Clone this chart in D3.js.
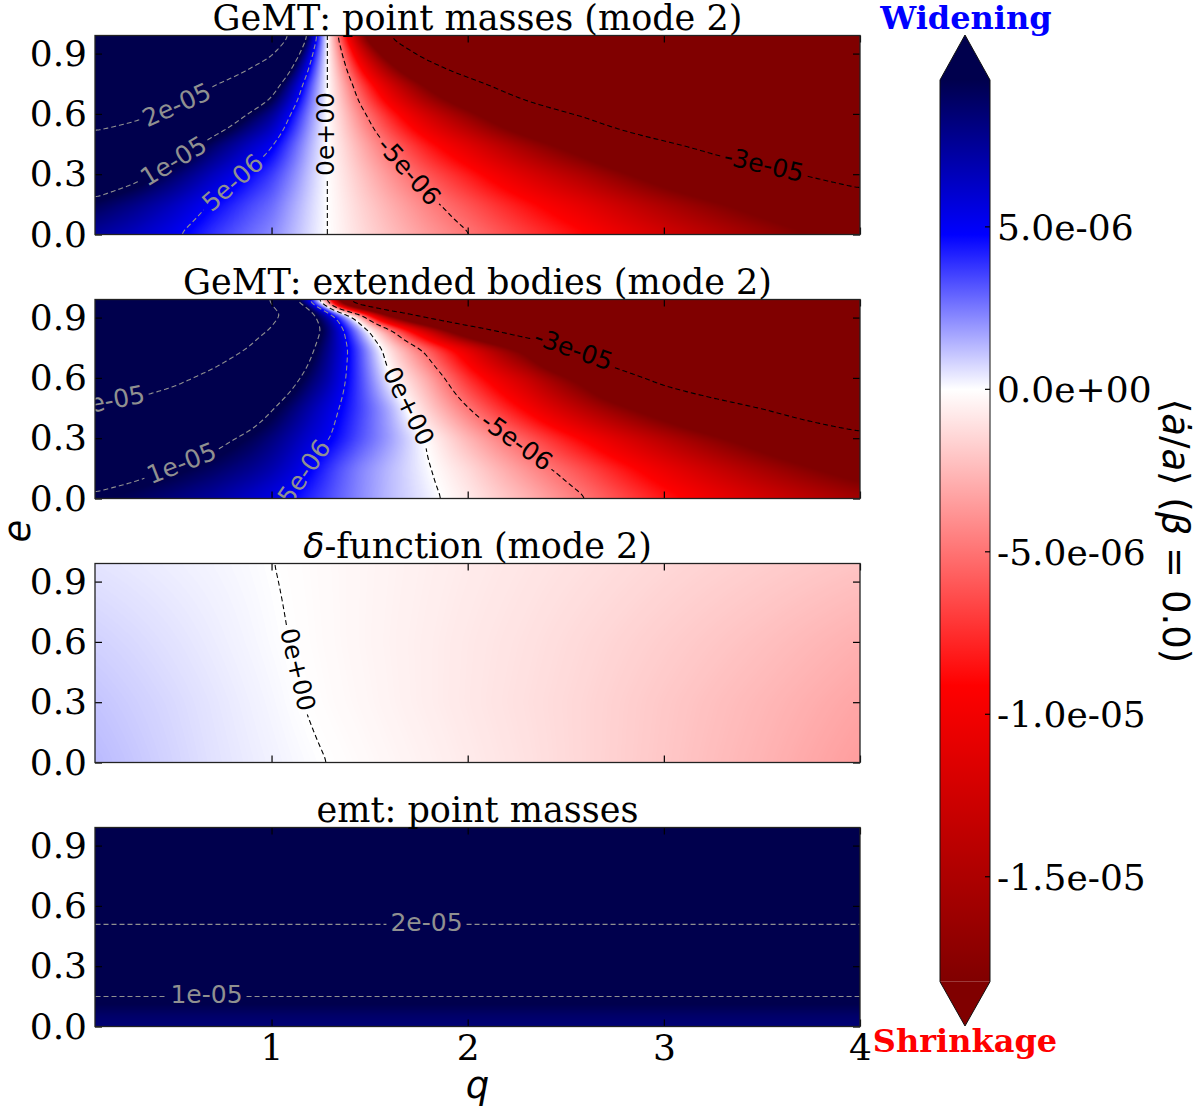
<!DOCTYPE html>
<html>
<head>
<meta charset="utf-8">
<script src="https://cdn.jsdelivr.net/npm/d3@7/dist/d3.min.js"></script>
<style>
  body { margin: 0; background: #fff; }
  text { font-family: "DejaVu Serif", serif; }
  text.sans, tspan.sans { font-family: "DejaVu Sans", sans-serif; }
</style>
</head>
<body>
<svg id="fig" width="1200" height="1111"></svg>
<script>
// all field values below are in units of 1e-6
const UNIT = 1e-6;
const VMIN = -18.23, VMAX = 9.52;
const levels = [-30, -5, 0, 5, 10, 20];
const cbTicks = [5, 0, -5, -10, -15];
const xTicks = [1, 2, 3, 4];
const yTicks = [0, 0.3, 0.6, 0.9];

const titles = ["GeMT: point masses (mode 2)", "GeMT: extended bodies (mode 2)",
                "δ-function (mode 2)", "emt: point masses"];

// sample points
const qGrid = [0.1, 0.3, 0.5, 0.7, 0.9, 1.0, 1.1, 1.2, 1.284, 1.35, 1.45, 1.6, 1.8, 2.0, 2.3, 2.6, 3.0, 3.5, 4.0];
const eGrid = [0, 0.15, 0.3, 0.45, 0.6, 0.75, 0.85, 0.93, 0.99];

const gemtPoint = [
  [7.4, 6.4, 5.2, 3.8, 2.7, 2.2, 1.4, 0.6, 0, -0.45, -1.2, -2.25, -3.6, -4.85, -6.9, -8.9, -12.1, -16, -20.1],
  [9.3, 8.0, 6.5, 4.8, 3.4, 2.8, 1.75, 0.75, 0, -0.56, -1.5, -2.8, -4.5, -6.1, -8.6, -11.1, -15.1, -20, -25.1],
  [12.4, 10.9, 8.8, 6.5, 4.6, 3.7, 2.4, 1.0, 0, -0.77, -2.0, -3.8, -6.1, -8.2, -11.7, -15.1, -20.6, -27.2, -34.2],
  [16.5, 14.7, 12.2, 8.9, 6.3, 5.2, 3.3, 1.4, 0, -1.06, -2.8, -5.3, -8.5, -11.4, -16.2, -20.9, -28.4, -37.6, -47.2],
  [24.5, 21.8, 18.2, 13.3, 9.5, 7.7, 4.9, 2.1, 0, -1.6, -4.2, -7.9, -12.6, -17.0, -24.2, -31.2, -42.4, -56, -70.4],
  [38, 33.8, 28.1, 20.5, 14.6, 11.9, 7.6, 3.2, 0, -2.4, -6.5, -12.2, -19.4, -26.2, -37.3, -48.1, -65.3, -86.4, -109],
  [55, 49, 40.6, 29.6, 21.1, 17.2, 10.9, 4.7, 0, -3.5, -9.4, -17.6, -28.1, -37.8, -53.8, -69.4, -94.4, -125, -157],
  [75, 66, 54.6, 39.9, 28.4, 23.1, 14.7, 6.3, 0, -4.7, -12.6, -23.6, -37.8, -50.9, -72.5, -93.5, -127, -168, -211],
  [97, 85, 70.2, 51.3, 36.5, 29.7, 18.9, 8.1, 0, -6.1, -16.2, -30.4, -48.6, -65.5, -93.2, -120, -163, -216, -271]
];

const gemtExtended = [
  [9.6, 9.0, 8.2, 7.3, 6.1, 5.5, 4.75, 4.0, 3.4, 2.9, 2.2, 1.25, 0.35, -0.7, -2.6, -4.9, -8.2, -12, -15.5],
  [11.5, 10.8, 10.0, 9.0, 7.8, 7.0, 6.0, 4.85, 3.9, 3.2, 2.3, 1.3, 0.1, -1.3, -3.9, -6.5, -10.5, -15.5, -20.5],
  [14, 13, 12, 10.9, 9.3, 8.3, 7.1, 5.9, 5.15, 4.4, 3.3, 1.85, -0.2, -2.6, -5.9, -9.4, -14.3, -20.5, -27],
  [19.3, 18, 16.3, 14.2, 11.6, 10.2, 8.6, 7.0, 5.8, 4.9, 3.6, 1.6, -1.8, -4.9, -9.5, -14.5, -21, -30, -40],
  [26, 24, 21.5, 18.5, 15, 13, 11, 8.8, 7.2, 5.6, 3.5, 0.2, -3.2, -7.5, -13, -20, -33, -45, -57],
  [31, 29, 26.5, 23.5, 19.6, 17, 14, 10.6, 8, 6.1, 3.3, -1.1, -5.9, -11, -20, -34, -50, -65, -80],
  [33, 31, 28.5, 25.5, 22, 20.1, 16.5, 12, 8.9, 5.7, 1.6, -4.5, -14, -25, -40, -52, -68, -85, -100],
  [34, 32, 29.5, 26.5, 23.5, 21.5, 19.3, 11, 6.2, 2.6, -4, -22, -40, -55, -70, -82, -95, -110, -125],
  [33, 31, 28.5, 25.5, 22.2, 19.6, 10.5, 3, -7, -25, -50, -70, -85, -95, -110, -120, -135, -150, -165]
];

const eGridDelta = [0, 0.3, 0.6, 0.99];
const deltaFn = [
  [1.3, 1.05, 0.8, 0.55, 0.35, 0.26, 0.16, 0.07, 0.0, -0.06, -0.15, -0.3, -0.5, -0.72, -1.05, -1.45, -2.0, -2.7, -3.5],
  [1.1, 0.9, 0.7, 0.48, 0.27, 0.17, 0.06, -0.04, -0.12, -0.18, -0.27, -0.42, -0.62, -0.82, -1.12, -1.45, -1.95, -2.55, -3.2],
  [0.85, 0.7, 0.53, 0.35, 0.17, 0.08, -0.01, -0.1, -0.17, -0.23, -0.32, -0.45, -0.62, -0.8, -1.05, -1.35, -1.75, -2.25, -2.8],
  [0.5, 0.4, 0.3, 0.2, 0.08, 0.01, -0.06, -0.13, -0.19, -0.24, -0.31, -0.42, -0.56, -0.7, -0.9, -1.1, -1.4, -1.75, -2.1]
];

// emt does not change with q
const qGridEmt = [0.1, 4.0];
const eGridEmt = [0, 0.05, 0.1, 0.155, 0.3, 0.51, 0.75, 0.99];
const emtByE = [8.4, 8.7, 9.4, 10, 13, 20, 30, 45];

// where the inline contour labels sit: [level, q, e] per panel
const labelSpots = [
  [[20, 0.508, 0.67], [10, 0.49, 0.387], [5, 0.805, 0.254], [0, 1.315, 0.5], [-5, 1.706, 0.32], [-30, 3.51, 0.35]],
  [[20, 0.176, 0.465], [10, 0.55, 0.15], [5, 1.196, 0.115], [0, 1.697, 0.457], [-5, 2.24, 0.27], [-30, 2.53, 0.72]],
  [[0, 1.137, 0.465]],
  [[20, 1.79, 0.51], [10, 0.668, 0.155]]
];

const panels = [
  {title: titles[0], qs: qGrid, es: eGrid, grid: gemtPoint},
  {title: titles[1], qs: qGrid, es: eGrid, grid: gemtExtended},
  {title: titles[2], qs: qGrid, es: eGridDelta, grid: deltaFn},
  {title: titles[3], qs: qGridEmt, es: eGridEmt, grid: emtByE.map(v => [v, v])}
];

const plotX0 = 95, plotX1 = 860, panelH = 199;
const panelTops = [35.5, 299.5, 563.5, 827.5];
const x = d3.scaleLinear().domain([0.1, 4]).range([plotX0, plotX1]);
const FS = 36;   // tick labels

// seismic_r with white at zero
const color = d3.scaleLinear()
  .domain([VMIN, VMIN / 2, 0, VMAX / 2, VMAX])
  .range(["#800000", "#ff0000", "#ffffff", "#0000ff", "#00004d"])
  .clamp(true);
const lut = d3.range(1024).map(k => d3.rgb(color(VMIN + (VMAX - VMIN) * k / 1023)));
function rgbOf(v) {
  const k = Math.round((v - VMIN) / (VMAX - VMIN) * 1023);
  return lut[Math.max(0, Math.min(1023, k))];
}

const expo = s => s.replace(/e([+-])(\d)$/, "e$10$2");
const fmtLevel = v => expo((v * UNIT).toExponential(0));
const fmtCb = v => expo((v * UNIT).toExponential(1));

function field(qs, es, grid) {
  return (q, e) => {
    const i = Math.min(Math.max(d3.bisectRight(qs, q) - 1, 0), qs.length - 2);
    const j = Math.min(Math.max(d3.bisectRight(es, e) - 1, 0), es.length - 2);
    const tq = Math.max(0, Math.min(1, (q - qs[i]) / (qs[i + 1] - qs[i])));
    const te = Math.max(0, Math.min(1, (e - es[j]) / (es[j + 1] - es[j])));
    const a = grid[j][i], b = grid[j][i + 1], c = grid[j + 1][i], d = grid[j + 1][i + 1];
    return (a * (1 - tq) + b * tq) * (1 - te) + (c * (1 - tq) + d * tq) * te;
  };
}

// turn d3.contours rings into open lines (drop the parts running on the border)
function openRing(ring, W, H) {
  const onEdge = p => p[0] <= 0 || p[0] >= W || p[1] <= 0 || p[1] >= H;
  const pts = ring.slice(0, ring.length - 1);
  const start = pts.findIndex(onEdge);
  if (start < 0) return [ring];
  const out = [];
  let cur = [];
  for (let k = 0; k <= pts.length; k++) {
    const p = pts[(start + k) % pts.length];
    if (onEdge(p)) { if (cur.length > 1) out.push(cur); cur = []; }
    else cur.push(p);
  }
  return out;
}

function placeLabel(layer, lines, px, py, txt, col) {
  let best = null;
  lines.forEach((l, li) => l.forEach((p, k) => {
    const d = (p[0] - px) ** 2 + (p[1] - py) ** 2;
    if (!best || d < best.d) best = {d, li, k};
  }));
  if (!best) return lines;
  const line = lines[best.li];
  const s = [0];
  for (let k = 1; k < line.length; k++)
    s.push(s[k - 1] + Math.hypot(line[k][0] - line[k - 1][0], line[k][1] - line[k - 1][1]));
  const total = s[s.length - 1];
  const at = t => {
    t = Math.max(0, Math.min(total, t));
    let k = Math.min(Math.max(d3.bisectRight(s, t), 1), s.length - 1);
    const f = (t - s[k - 1]) / ((s[k] - s[k - 1]) || 1);
    return [line[k - 1][0] + f * (line[k][0] - line[k - 1][0]), line[k - 1][1] + f * (line[k][1] - line[k - 1][1])];
  };
  const label = layer.append("text").attr("class", "sans")
    .attr("font-size", 25).attr("fill", col)
    .attr("text-anchor", "middle").attr("dy", "0.265em").text(txt);
  const w = label.node().getComputedTextLength();
  const s0 = s[best.k], half = w / 2;
  const pa = at(s0 - half), pb = at(s0 + half), c = at(s0);
  let ang = Math.atan2(pb[1] - pa[1], pb[0] - pa[0]) * 180 / Math.PI;
  if (ang > 90) ang -= 180;
  if (ang <= -90) ang += 180;
  label.attr("transform", `translate(${c[0]},${c[1]}) rotate(${ang})`);
  const gap = half + 4;
  const before = [], after = [];
  line.forEach((p, k) => {
    if (s[k] < s0 - gap) before.push(p);
    else if (s[k] > s0 + gap) after.push(p);
  });
  if (before.length) before.push(at(s0 - gap));
  if (after.length) after.unshift(at(s0 + gap));
  const res = lines.filter((_, li) => li !== best.li);
  if (before.length > 1) res.push(before);
  if (after.length > 1) res.push(after);
  return res;
}

const svg = d3.select("#fig");
const defs = svg.append("defs");
const lineGen = d3.line();

panels.forEach((p, pi) => {
  const top = panelTops[pi];
  const y = d3.scaleLinear().domain([0, 0.99]).range([top + panelH, top]);
  const f = field(p.qs, p.es, p.grid);
  const W = plotX1 - plotX0, H = panelH;
  const vals = new Float64Array(W * H);
  for (let j = 0; j < H; j++) {
    const e = y.invert(top + j + 0.5);
    for (let i = 0; i < W; i++) vals[j * W + i] = f(x.invert(plotX0 + i + 0.5), e);
  }
  // soften the kinks that the sample grid leaves
  d3.blur2({data: vals, width: W, height: H}, 4);

  const cv = document.createElement("canvas");
  cv.width = W; cv.height = H;
  const ctx = cv.getContext("2d");
  const img = ctx.createImageData(W, H);
  for (let k = 0; k < W * H; k++) {
    const c = rgbOf(vals[k]);
    img.data[4 * k] = c.r; img.data[4 * k + 1] = c.g; img.data[4 * k + 2] = c.b; img.data[4 * k + 3] = 255;
  }
  ctx.putImageData(img, 0, 0);

  const clipId = "clip" + pi;
  defs.append("clipPath").attr("id", clipId).append("rect")
    .attr("x", plotX0).attr("y", top).attr("width", W).attr("height", H);

  const g = svg.append("g");
  g.append("image").attr("x", plotX0).attr("y", top).attr("width", W).attr("height", H)
    .attr("preserveAspectRatio", "none").attr("href", cv.toDataURL());

  // contour lines
  const cont = d3.contours().size([W, H]).thresholds(levels)(vals);
  const lineLayer = g.append("g").attr("clip-path", `url(#${clipId})`);
  const labelLayer = g.append("g").attr("clip-path", `url(#${clipId})`);
  cont.forEach(c => {
    let lines = [];
    c.coordinates.forEach(poly => poly.forEach(ring =>
      openRing(ring, W, H).forEach(l => lines.push(l.map(pt => [plotX0 + pt[0], top + pt[1]])))));
    const col = c.value > 0 ? "#909090" : "#000000";
    labelSpots[pi].filter(sp => sp[0] === c.value).forEach(sp => {
      lines = placeLabel(labelLayer, lines, x(sp[1]), y(sp[2]), fmtLevel(c.value), col);
    });
    lineLayer.selectAll(null).data(lines).join("path")
      .attr("d", lineGen).attr("fill", "none").attr("stroke", col)
      .attr("stroke-width", 1.1).attr("stroke-dasharray", "5,3");
  });

  // axes, ticks pointing in
  const styleAxis = a => {
    a.attr("font-size", FS).attr("font-family", null);
    a.select(".domain").remove();
    a.selectAll("line").attr("stroke-width", 1.2);
    a.selectAll("text").attr("fill", "#000");
  };
  g.append("g").attr("transform", `translate(0,${top + H})`)
    .call(d3.axisBottom(x).tickValues(xTicks).tickSize(-7).tickPadding(8)
      .tickFormat(pi === 3 ? d3.format("d") : () => "")).call(styleAxis);
  g.append("g").attr("transform", `translate(0,${top})`)
    .call(d3.axisTop(x).tickValues(xTicks).tickSize(-7).tickFormat(() => "")).call(styleAxis);
  g.append("g").attr("transform", `translate(${plotX0},0)`)
    .call(d3.axisLeft(y).tickValues(yTicks).tickSize(-7).tickPadding(8).tickFormat(d3.format(".1f"))).call(styleAxis);
  g.append("g").attr("transform", `translate(${plotX1},0)`)
    .call(d3.axisRight(y).tickValues(yTicks).tickSize(-7).tickFormat(() => "")).call(styleAxis);

  g.append("rect").attr("x", plotX0).attr("y", top).attr("width", W).attr("height", H)
    .attr("fill", "none").attr("stroke", "#222").attr("stroke-width", 1.3);

  const t = g.append("text").attr("x", (plotX0 + plotX1) / 2).attr("y", top - 6)
    .attr("text-anchor", "middle").attr("font-size", 35);
  if (p.title.startsWith("δ")) {
    t.append("tspan").attr("class", "sans").attr("font-style", "italic").text("δ");
    t.append("tspan").text(p.title.slice(1));
  } else t.text(p.title);
});

// axis labels
svg.append("text").attr("class", "sans").attr("font-style", "italic").attr("font-size", 37)
  .attr("text-anchor", "middle").attr("x", (plotX0 + plotX1) / 2).attr("y", 1098).text("q");
svg.append("text").attr("class", "sans").attr("font-style", "italic").attr("font-size", 37)
  .attr("text-anchor", "middle").attr("transform", "translate(30,531) rotate(-90)").text("e");

// colour bar
const cbX = 940, cbW = 50, cbTop = 80, cbBot = 981.7, tipTop = 35, tipBot = 1026;
const cbScale = d3.scaleLinear().domain([VMIN, VMAX]).range([cbBot, cbTop]);
const grad = defs.append("linearGradient").attr("id", "cbgrad")
  .attr("x1", 0).attr("y1", 1).attr("x2", 0).attr("y2", 0);
color.domain().forEach(v => grad.append("stop")
  .attr("offset", (v - VMIN) / (VMAX - VMIN)).attr("stop-color", color(v)));
const cb = svg.append("g");
cb.append("rect").attr("x", cbX).attr("y", cbTop).attr("width", cbW).attr("height", cbBot - cbTop)
  .attr("fill", "url(#cbgrad)");
cb.append("path").attr("d", `M${cbX},${cbTop}L${cbX + cbW / 2},${tipTop}L${cbX + cbW},${cbTop}Z`)
  .attr("fill", color(VMAX));
cb.append("path").attr("d", `M${cbX},${cbBot}L${cbX + cbW / 2},${tipBot}L${cbX + cbW},${cbBot}Z`)
  .attr("fill", color(VMIN));
cb.append("path")
  .attr("d", `M${cbX},${cbTop}L${cbX + cbW / 2},${tipTop}L${cbX + cbW},${cbTop}L${cbX + cbW},${cbBot}L${cbX + cbW / 2},${tipBot}L${cbX},${cbBot}Z`)
  .attr("fill", "none").attr("stroke", "#111").attr("stroke-width", 1);
cbTicks.forEach(v => {
  cb.append("line").attr("x1", cbX + cbW - 5).attr("x2", cbX + cbW)
    .attr("y1", cbScale(v)).attr("y2", cbScale(v)).attr("stroke", "#000").attr("stroke-width", 1.2);
  cb.append("text").attr("x", cbX + cbW + 7).attr("y", cbScale(v)).attr("dy", "0.36em")
    .attr("font-size", FS).text(fmtCb(v));
});
const cbl = svg.append("text").attr("class", "sans").attr("font-size", 37)
  .attr("text-anchor", "middle").attr("transform", "translate(1163,531) rotate(90)");
cbl.append("tspan").text("⟨");
cbl.append("tspan").attr("font-style", "italic").text("ȧ");
cbl.append("tspan").text("/");
cbl.append("tspan").attr("font-style", "italic").text("a");
cbl.append("tspan").text("⟩ (");
cbl.append("tspan").attr("font-style", "italic").text("β");
cbl.append("tspan").text(" = 0.0)");

svg.append("text").attr("x", 966).attr("y", 29).attr("text-anchor", "middle")
  .attr("font-size", 32).attr("font-weight", "bold").attr("fill", "#0000ff").text("Widening");
svg.append("text").attr("x", 965).attr("y", 1052).attr("text-anchor", "middle")
  .attr("font-size", 32).attr("font-weight", "bold").attr("fill", "#ff0000").text("Shrinkage");
</script>
</body>
</html>
